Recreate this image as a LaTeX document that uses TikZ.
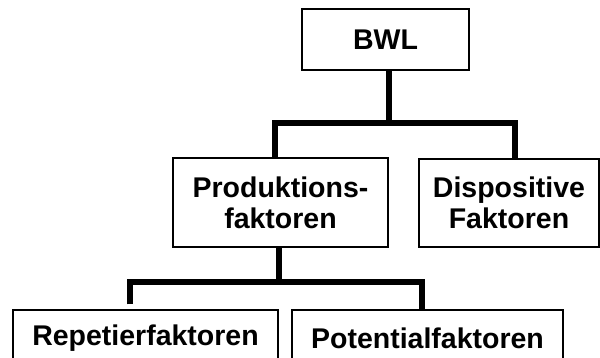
\documentclass[tikz,border=0pt]{standalone}
\usepackage{fontspec}
\setmainfont{Liberation Sans}
\tikzset{
    box/.style={draw,line width=1.2pt,align=center,inner sep=0pt,
        font=\fontsize{28.5}{31}\selectfont\bfseries},
    conn/.style={line width=6pt}
}
\begin{document}
\begin{tikzpicture}[x=1pt,y=-1pt]
    
            \useasboundingbox (0,0) rectangle (600,358);
            \clip (0,0) rectangle (600,358);
            
            \node[box,minimum width=167pt,minimum height=61pt] (bwl)  at (385.5,39.5) {BWL};
            \node[box,minimum width=215pt,minimum height=89pt] (prod) at (280.5,202.5) {Produktions-\\faktoren};
            \node[box,minimum width=180pt,minimum height=88pt] (disp) at (509,203) {Dispositive\\Faktoren};
            \node[box,minimum width=265pt,minimum height=56pt] (rep)  at (145.5,338) {Repetierfaktoren};
            \node[box,minimum width=271pt,minimum height=56pt] (pot)  at (427.5,338) {Potentialfaktoren};
            
            \draw[conn]
            ([xshift=3.5pt]bwl.south) -- ++(0,52) coordinate (j1);
            \draw[conn]
            ([xshift=-5.5pt]prod.north) |- (j1) -| ([xshift=6pt]disp.north);
            
            \draw[conn]
            ([xshift=-1.5pt]prod.south) -- ++(0,34) coordinate (j2);
            \draw[conn,shorten <=5pt]
            ([xshift=-15.5pt]rep.north) |- (j2) -| ([xshift=-5.5pt]pot.north);
        
        \end{tikzpicture}
\end{document}
